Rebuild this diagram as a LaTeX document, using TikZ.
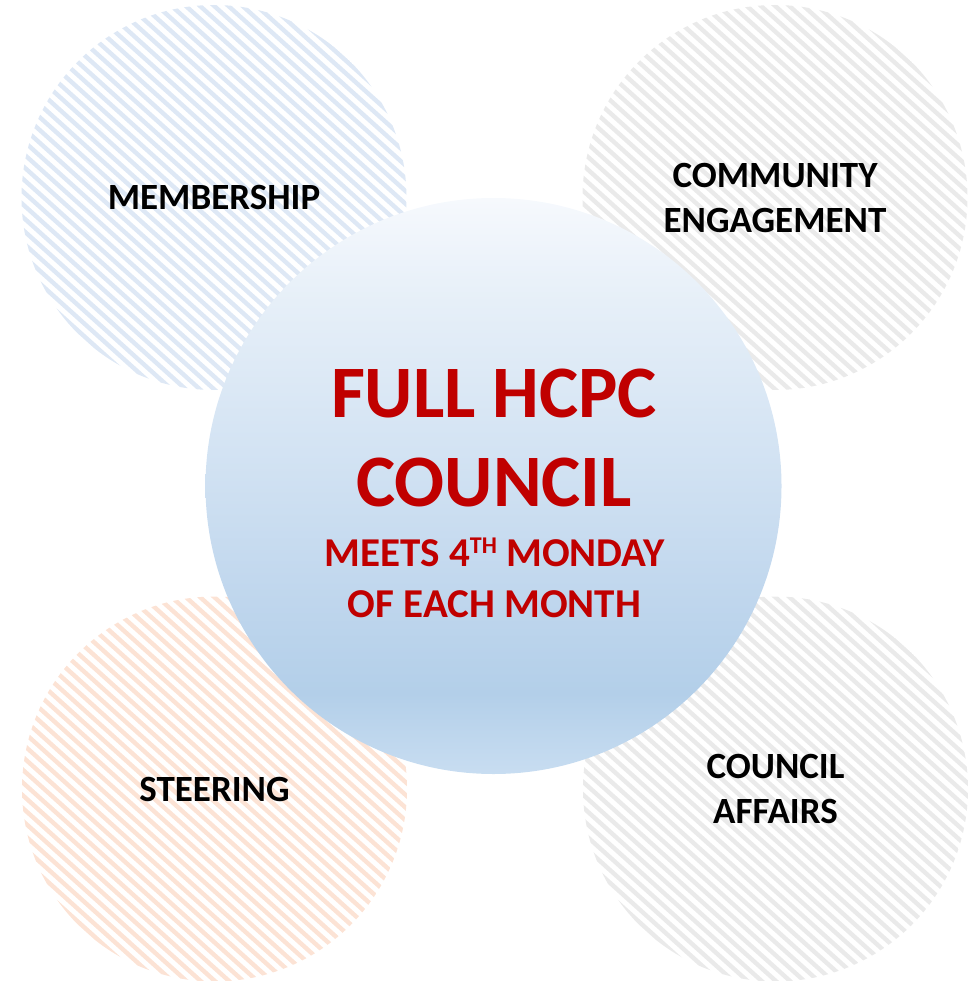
\documentclass[tikz,border=0pt]{standalone}
\usepackage{fontspec}
\setmainfont{Carlito}
\usetikzlibrary{calc}
\definecolor{hblue}{HTML}{DEE8F5}
\definecolor{hgrey}{HTML}{EAEAEA}
\definecolor{hpeach}{HTML}{FCE3D5}
\definecolor{hcred}{HTML}{C00000}
\definecolor{gA}{HTML}{C8DDF1}
\definecolor{gB}{HTML}{B3CFE9}
\definecolor{gC}{HTML}{BFD6ED}
\definecolor{gD}{HTML}{D3E3F3}
\definecolor{gE}{HTML}{E6EFF8}
\definecolor{gF}{HTML}{F6F9FD}
\pgfdeclareverticalshading{centershade}{100bp}{color(0bp)=(gA); color(25bp)=(gA); color(32bp)=(gB); color(40bp)=(gC); color(53bp)=(gD); color(66bp)=(gE); color(75bp)=(gF); color(100bp)=(gF)}
\tikzset{
  hatchdisc/.style={circle, inner sep=0pt, minimum size=385pt, align=center,
    font={\fontsize{37}{45}\selectfont\bfseries},
    path picture={
      \foreach \k in {-24,...,24}{
        \draw[line width=4.4pt, #1]
          ($(path picture bounding box.center)+({-0.669*9.5*\k-0.743*280},{0.743*9.5*\k-0.669*280})$)
          -- ++({0.743*560},{0.669*560});
      }}},
  redtext/.style={text=hcred, align=center, inner sep=0pt}
}
\begin{document}
\begin{tikzpicture}[x=1pt,y=-1pt]
\useasboundingbox (0,0) rectangle (971,981);
\node[hatchdisc=hblue] (membership) at (214,197.5) {MEMBERSHIP};
\node[hatchdisc=hgrey] (community) at (775,197.5) {COMMUNITY\\ENGAGEMENT};
\node[hatchdisc=hpeach] (steering) at (214.5,789) {STEERING};
\node[hatchdisc=hgrey] (affairs) at (775.5,789) {COUNCIL\\AFFAIRS};
\node[circle, inner sep=0pt, minimum size=576pt, shade, shading=centershade] (council) at (493.5,486) {};
\node[redtext, font={\fontsize{74}{89.4}\selectfont\bfseries}] (title) at (494,438) {FULL HCPC\\COUNCIL};
\node[redtext, font={\fontsize{41}{51}\selectfont\bfseries}] (meets) at (494.5,577.5) {MEETS 4\raisebox{13pt}{\fontsize{24}{24}\selectfont TH} MONDAY\\OF EACH MONTH};
\end{tikzpicture}
\end{document}
